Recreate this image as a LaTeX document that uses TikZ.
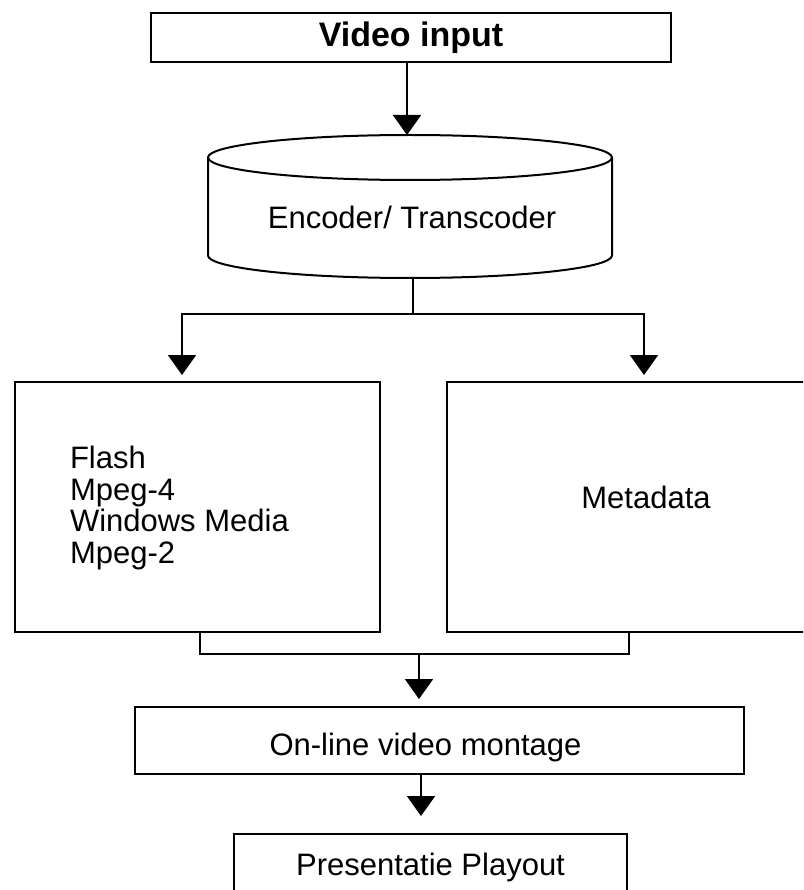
\documentclass[tikz,border=0pt]{standalone}
\usepackage{fontspec}
\setmainfont{Liberation Sans}
\usetikzlibrary{arrows.meta}

\tikzset{
  box/.style={draw, line width=2pt, inner sep=0pt},
  arr/.style={-{Triangle[width=28pt,length=20pt]}},
}

\begin{document}
\begin{tikzpicture}[
    x=1pt, y=-1pt,
    line width=2pt,
    font=\fontsize{31}{31.5}\selectfont,
  ]
  \useasboundingbox (0,0) rectangle (803,890);
  \clip (0,0) rectangle (803,890);

  \node (vin) [box, minimum width=520pt, minimum height=49pt, font=\fontsize{34}{34}\selectfont\bfseries] at (411,37.5) {Video input};

  % encoder drawn as a drum
  \draw (208,157.5) -- (208,255.5) arc[start angle=180, end angle=360, x radius=202pt, y radius=22.5pt] -- (612,157.5);
  \draw (410,157.5) ellipse [x radius=202pt, y radius=22.5pt];
  \node (enc) at (412,217) {Encoder/ Transcoder};
  \coordinate (encTop) at (407,135);
  \coordinate (encBot) at (413,278);

  \node (fmt) [box, minimum width=365pt, minimum height=250pt] at (197.5,507) {};
  \node (fmtList) [anchor=west, align=left, inner sep=0pt] at (69,508) {Flash\\Mpeg-4\\Windows Media\\Mpeg-2};

  \node (meta) [box, minimum width=398pt, minimum height=250pt] at (646,507) {};
  \node (metaText) at (646,497) {Metadata};

  \node (mont) [box, minimum width=609pt, minimum height=67pt] at (439.5,740.5) {};
  \node (montText) at (425.5,747) {On-line video montage};

  \node (play) [box, minimum width=393pt, minimum height=67pt] at (430.5,867.5) {Presentatie Playout};

  % connectors
  \draw[arr] (vin.south -| encTop) -- (encTop);

  \coordinate (fork) at (413,314);
  \coordinate (fmtIn) at (182,375);
  \coordinate (metaIn) at (644,375);
  \draw (encBot) -- (fork);
  \draw[arr] (fork) -| (fmtIn);
  \draw[arr] (fork) -| (metaIn);

  \coordinate (fmtOut) at (200,632);
  \coordinate (metaOut) at (629,632);
  \coordinate (join) at (419,654);
  \draw (fmtOut) |- (join) -| (metaOut);
  \draw[arr, shorten >=7pt] (join) -- (join |- mont.north);

  \coordinate (montOut) at (421,774);
  \draw[arr, shorten >=17pt] (montOut) -- (montOut |- play.north);
\end{tikzpicture}
\end{document}
